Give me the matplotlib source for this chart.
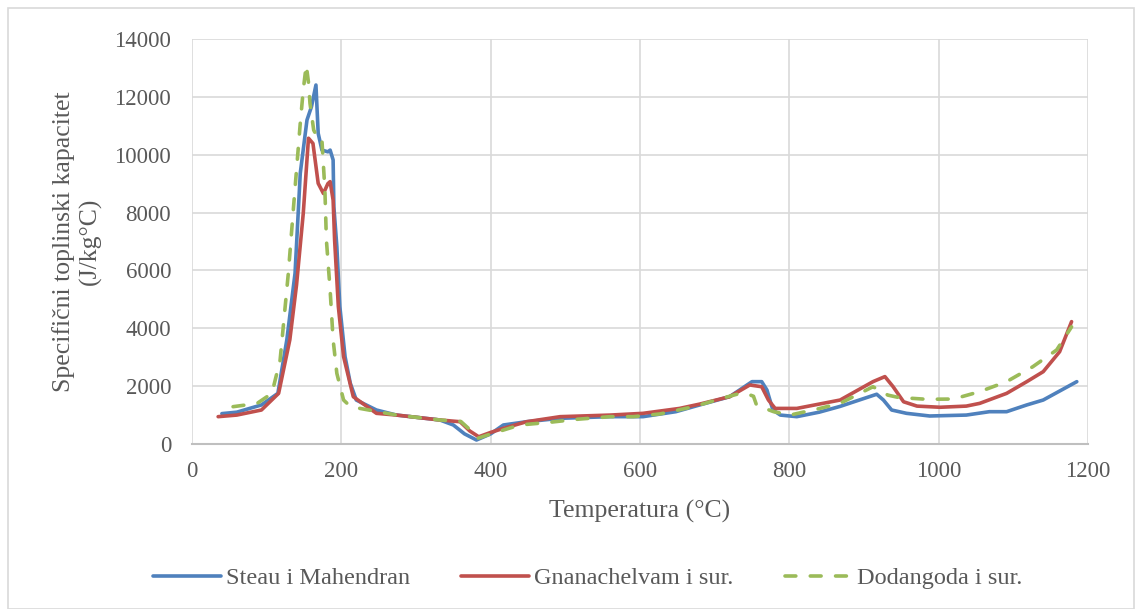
import matplotlib.pyplot as plt
import matplotlib.patches as patches

# Steau i Mahendran
blue_x = [40, 60, 93, 115, 127, 138, 145, 154, 160, 166, 169, 174, 182, 185, 189, 190, 194, 198, 205, 212, 220, 247,
          274, 332, 350, 365, 381, 400, 417, 448, 493, 560, 604, 648, 680, 720, 750, 763, 770, 778, 788, 810, 840,
          868, 917, 926, 937, 957, 988, 1037, 1068, 1091, 1118, 1140, 1185]
blue_y = [1050, 1100, 1350, 1750, 3600, 5900, 9360, 11200, 11660, 12410, 10740, 10160, 10100, 10160, 9820, 8200, 6820,
          4750, 3020, 2100, 1520, 1175, 1000, 830, 657, 350, 138, 350, 657, 770, 888, 945, 945, 1117, 1350, 1635, 2155,
          2155, 1867, 1175, 1000, 945, 1100, 1300, 1720, 1520, 1175, 1060, 968, 1000, 1117, 1117, 1350, 1520, 2155]

# Gnanachelvam i sur.
red_x = [35, 60, 93, 116, 131, 140, 149, 156, 162, 169, 176, 182, 185, 189, 191, 196, 203, 216, 247, 274, 332, 359,
         372, 384, 400, 417, 448, 493, 560, 604, 653, 680, 720, 747, 763, 772, 781, 810, 868, 912, 928, 939, 953, 971,
         1002, 1037, 1055, 1091, 1118, 1140, 1162, 1178]
red_y = [945, 1000, 1175, 1750, 3600, 5500, 7970, 10570, 10390, 9010, 8660, 9000, 9070, 8430, 7050, 4750, 3020, 1635,
         1060, 1000, 830, 770, 450, 250, 400, 540, 770, 945, 1000, 1060, 1230, 1380, 1635, 2040, 1980, 1520, 1230, 1230,
         1520, 2155, 2330, 1980, 1460, 1310, 1270, 1310, 1405, 1750, 2155, 2500, 3190, 4230]

# Dodangoda i sur.
green_x = [55, 87, 107, 118, 129, 136, 145, 149, 153, 156, 158, 163, 166, 169, 174, 178, 180, 185, 189, 194, 203, 212,
           225, 274, 332, 360, 372, 383, 403, 439, 479, 515, 560, 591, 627, 672, 710, 734, 748, 752, 756, 761, 779,
           801, 841, 868, 912, 932, 946, 984, 1020, 1055, 1091, 1126, 1158, 1178]
green_y = [1290, 1400, 1750, 2900, 5900, 8200, 11090, 12240, 13100, 12500, 11780, 10850, 10700, 10510, 10510, 8780,
           7050, 5320, 3600, 2440, 1520, 1300, 1230, 1000, 830, 780, 500, 200, 370, 657, 750, 853, 945, 945, 1040, 1290,
           1580, 1750, 1690, 1650, 1350, 1290, 1117, 1000, 1230, 1405, 1980, 1690, 1610, 1545, 1555, 1810, 2155, 2670,
           3250, 4050]

labels = ["Steau i Mahendran", "Gnanachelvam i sur.", "Dodangoda i sur."]
xticks = [0, 200, 400, 600, 800, 1000, 1200]
yticks = [0, 2000, 4000, 6000, 8000, 10000, 12000, 14000]

plt.rcParams['font.family'] = ['Liberation Serif', 'DejaVu Serif']
txt = '#595959'

fig = plt.figure(figsize=(11.35, 6.09), dpi=100)
ax = fig.add_axes([192/1135, 1-444/609, 896/1135, 405/609])

# outer chart border
fig.patches.append(patches.Rectangle((8/1135, 0), 1-8/1135-1/1135, 1-8/609, transform=fig.transFigure,
                                     fill=False, edgecolor='#d9d9d9', linewidth=1.2))

ax.plot(blue_x, blue_y, color='#4F81BD', lw=2.6, label=labels[0], solid_capstyle='round', solid_joinstyle='round')
ax.plot(red_x, red_y, color='#C0504D', lw=2.6, label=labels[1], solid_capstyle='round', solid_joinstyle='round')
ax.plot(green_x, green_y, color='#9BBB59', lw=2.6, label=labels[2], dashes=(3.0, 4.0),
        dash_capstyle='round', dash_joinstyle='round')

ax.set_xlim(0, 1200)
ax.set_ylim(0, 14000)
ax.set_xticks(xticks)
ax.set_yticks(yticks)
ax.grid(True, color='#d9d9d9', lw=1.2)
ax.set_axisbelow(True)
for s in ['top', 'right', 'left']:
    ax.spines[s].set_visible(False)
ax.spines['bottom'].set_color('#bfbfbf')
ax.spines['bottom'].set_linewidth(1.5)
ax.tick_params(length=0, labelsize=16.5, colors=txt)
ax.tick_params(axis='y', pad=15)
ax.tick_params(axis='x', pad=12)

ax.set_xlabel("Temperatura (°C)", fontsize=18.5, color=txt, labelpad=13)
ax.set_ylabel("Specifični toplinski kapacitet\n(J/kg°C)", fontsize=18.5, color=txt, labelpad=9)

fig.legend(loc='center', bbox_to_anchor=(588/1135, 1-578/609), ncol=3, frameon=False, fontsize=17.5,
           handlelength=2.8, columnspacing=2.1, handletextpad=0.2, labelcolor=txt)

fig.savefig("out.png", dpi=100)
